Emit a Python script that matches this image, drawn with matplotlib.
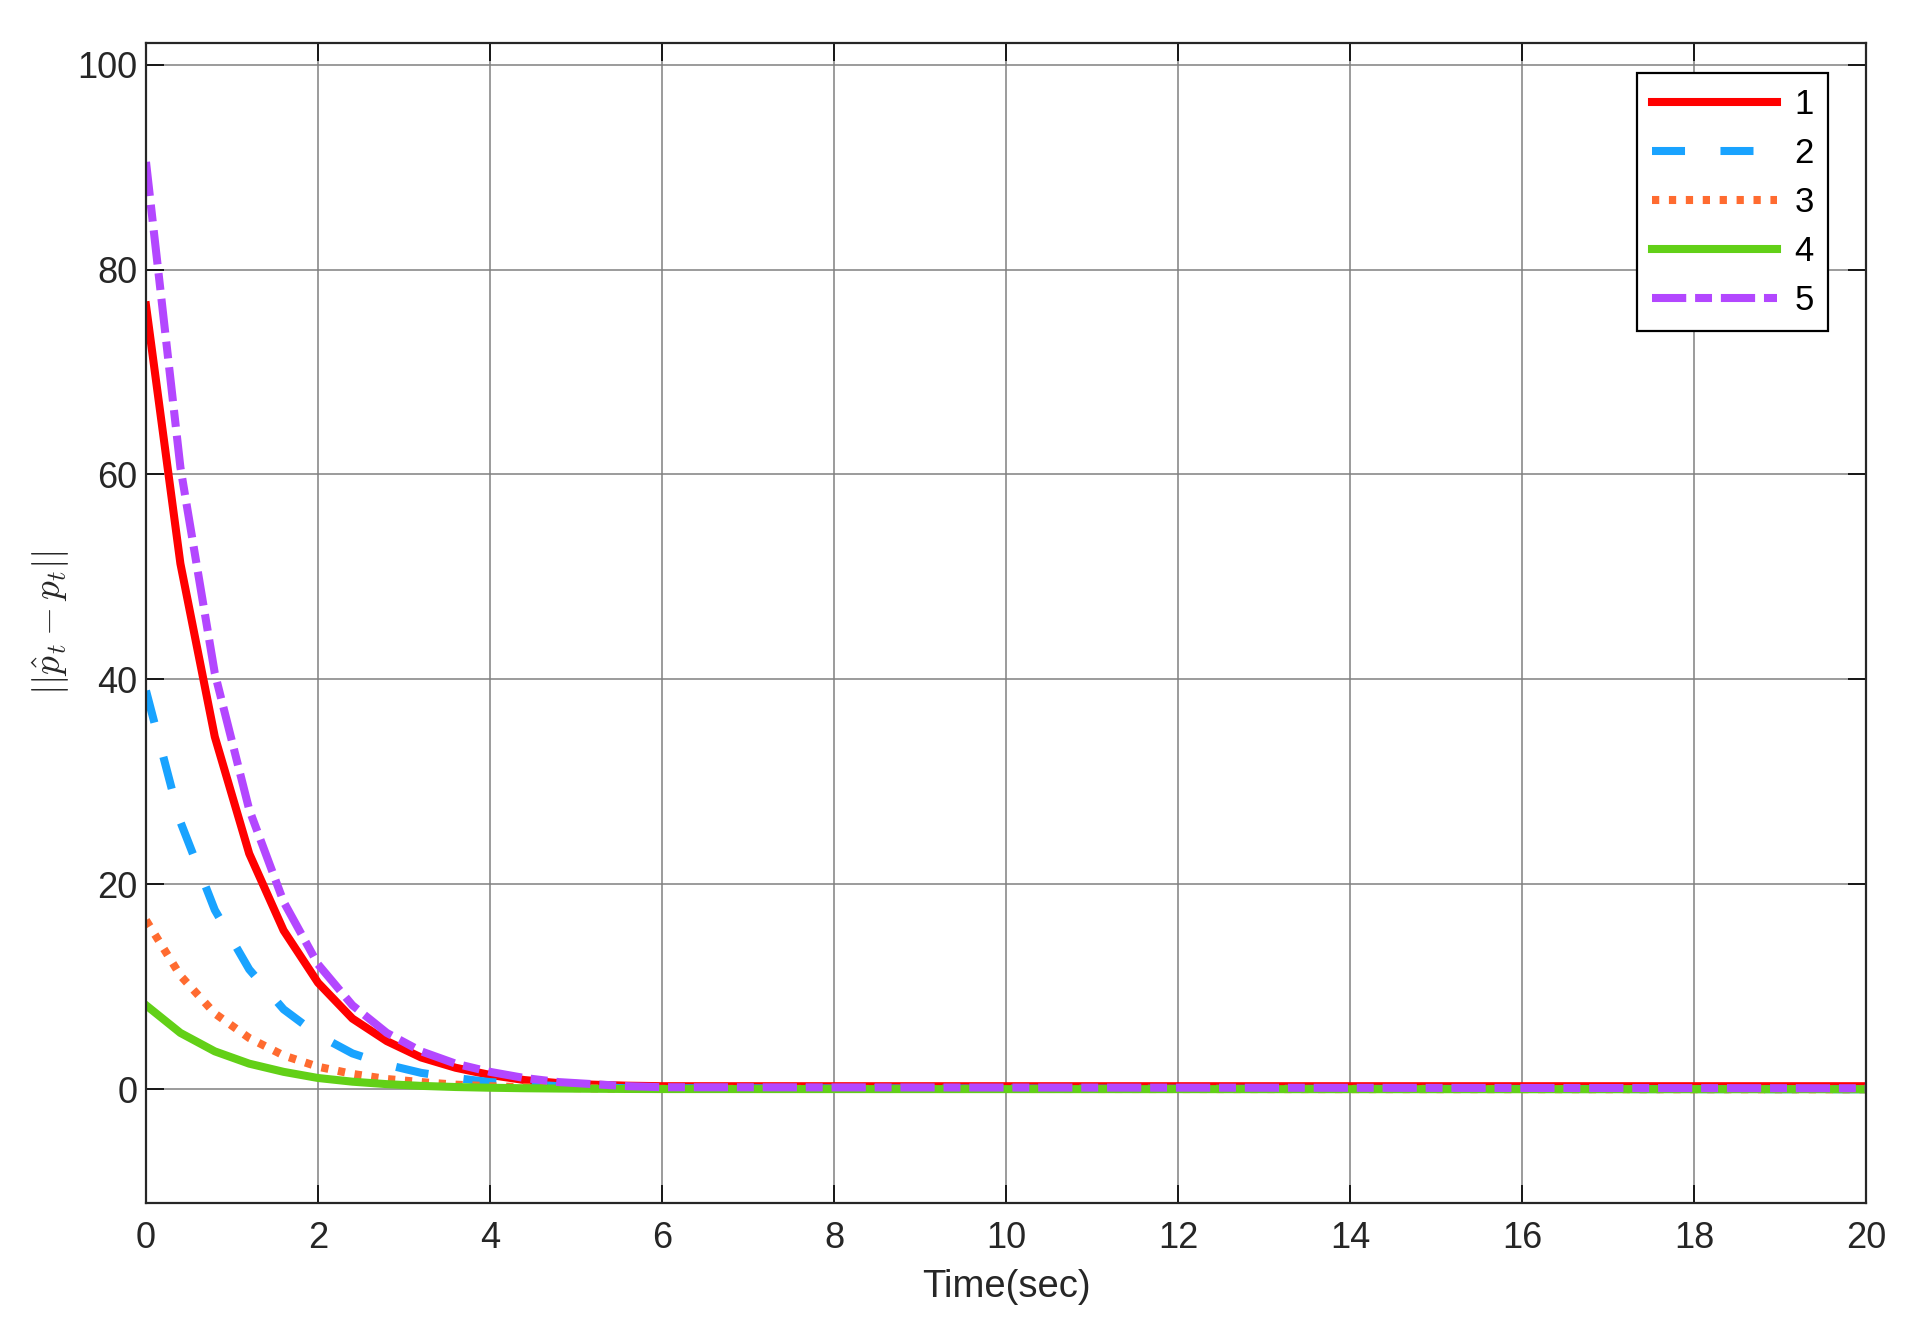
import numpy as np
import matplotlib
matplotlib.use("Agg")
import matplotlib.pyplot as plt

plt.rcParams['font.family'] = ['Liberation Sans', 'DejaVu Sans']
plt.rcParams['mathtext.fontset'] = 'cm'

# time samples (s) and estimation error of each agent
t = [0, 0.4, 0.8, 1.2, 1.6, 2.0, 2.4, 2.8, 3.2, 3.6, 4.0, 4.4, 4.8, 5.2, 5.6, 6.0, 20]
err1 = [76.5, 51.3, 34.4, 23.0, 15.5, 10.4, 6.9, 4.7, 3.1, 2.1, 1.4, 0.9, 0.6, 0.45, 0.35, 0.3, 0.3]
err2 = [38.9, 26.1, 17.5, 11.7, 7.8, 5.3, 3.5, 2.4, 1.6, 1.1, 0.7, 0.5, 0.3, 0.2, 0.1, 0.1, 0.0]
err3 = [16.5, 11.1, 7.4, 5.0, 3.3, 2.2, 1.5, 1.0, 0.7, 0.45, 0.3, 0.2, 0.14, 0.09, 0.06, 0.04, 0.0]
err4 = [8.2, 5.5, 3.7, 2.5, 1.7, 1.1, 0.74, 0.5, 0.33, 0.22, 0.15, 0.1, 0.07, 0.05, 0.03, 0.02, 0.0]
err5 = [90.5, 60.7, 40.6, 27.3, 18.3, 12.2, 8.2, 5.5, 3.7, 2.5, 1.7, 1.1, 0.7, 0.5, 0.3, 0.2, 0.1]
labels = ['1', '2', '3', '4', '5']

xticks = np.arange(0, 21, 2)
yticks = np.arange(0, 101, 20)

fig = plt.figure(figsize=(19.21, 13.29), dpi=100)
ax = fig.add_axes([0.076, 0.0948, 0.8954, 0.8728])

lw = 5.8
ax.plot(t, err1, color='#ff0000', lw=lw, label=labels[0])
ax.plot(t, err2, color='#19a3ff', lw=lw, dashes=(4.1, 4.4), label=labels[1])
ax.plot(t, err3, color='#ff6b30', lw=lw, dashes=(0.9, 1.2), label=labels[2])
ax.plot(t, err4, color='#62d017', lw=lw, label=labels[3])
ax.plot(t, err5, color='#b347ff', lw=lw, dashes=(4.25, 1.1, 2.1, 1.1), label=labels[4])

ax.set_xlim(0, 20)
ax.set_ylim(-11.1, 102.1)
ax.set_xticks(xticks)
ax.set_yticks(yticks)
ax.grid(True, color='#808080', lw=1.1)
ax.set_axisbelow(True)

ax.tick_params(direction='in', length=13, width=1.2, top=True, right=True,
               labelsize=26, labelcolor='#262626', pad=13)
ax.tick_params(axis='y', pad=6)
for s in ax.spines.values():
    s.set_linewidth(1.6)
    s.set_color('#262626')

ax.set_xlabel('Time(sec)', fontsize=27.5, color='#262626', labelpad=9)
ax.set_ylabel(r'$||\hat{p}_t - p_t||$', fontsize=27, color='#262626', labelpad=5)

leg = ax.legend(loc='upper right', bbox_to_anchor=(0.978, 0.974), borderaxespad=0,
                fontsize=25, handlelength=3.6, labelspacing=0.46, fancybox=False,
                framealpha=1, borderpad=0.42, handletextpad=0.5)
leg.get_frame().set_edgecolor('black')
leg.get_frame().set_linewidth(1.6)

fig.savefig('out.png', dpi=100, facecolor='white')
